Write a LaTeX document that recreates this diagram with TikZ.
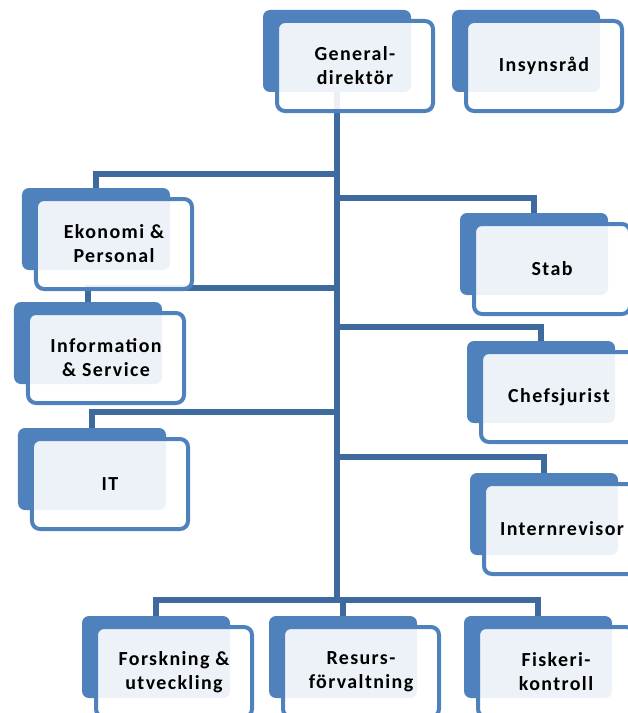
\documentclass[tikz,border=0pt]{standalone}
\usepackage{fontspec}
\setmainfont{Carlito}[LetterSpace=7]
\usetikzlibrary{
	positioning,
	backgrounds,
	calc
}
\definecolor{BoxBlue}{HTML}{4F81BD}
\definecolor{LineBlue}{HTML}{3E6A9E}
\newcommand{\orgbox}[4]{%
	\node[backbox] (#1) at (#2,#3) {};
	\node[frontbox] (#1-f) at ([shift={(18,15)}]#1.center) {#4};
}

\begin{document}
\begin{tikzpicture}[x=1bp, y=-1bp,
		font=\fontsize{20}{24}\selectfont\bfseries,
		backbox/.style={fill=BoxBlue, rounded corners=7bp,
			minimum width=148bp, minimum height=82bp, inner sep=0pt},
		frontbox/.style={draw=BoxBlue, line width=4bp, rounded corners=8bp,
			fill=white, fill opacity=0.9, text opacity=1, align=center,
			minimum width=156bp, minimum height=90bp, inner sep=0pt},
		conn/.style={draw=LineBlue, line width=6bp}]
		
		\useasboundingbox (0,0) rectangle (628,713);
		
		% -- Top row -------------------------------------------------
		\orgbox{gd}{337}{51}{General-\\direktör}
		\orgbox{ins}{526}{51}{Insynsråd}
		
		% -- Left side -----------------------------------------------
		\orgbox{eko}{96}{229}{Ekonomi \&\\Personal}
		\orgbox{info}{88}{343}{Information\\\& Service}
		\orgbox{it}{92}{469}{IT}
		
		% -- Right side ----------------------------------------------
		\orgbox{stab}{534}{254}{Stab}
		\orgbox{chef}{541}{382}{Chefsjurist}
		\orgbox{rev}{544}{514}{Internrevisor}
		
		% -- Bottom row ----------------------------------------------
		\orgbox{fou}{156}{657}{Forskning \&\\utveckling}
		\orgbox{res}{343}{657}{Resurs-\\förvaltning}
		\orgbox{fisk}{538}{657}{Fiskeri-\\kontroll}
		
		% -- Connectors (behind the boxes) ---------------------------
		\begin{scope}[on background layer]
			\fill[white] (0,0) rectangle (628,713);
			\coordinate (jEko)  at (337,174);
			\coordinate (jStab) at (337,198);
			\coordinate (jInfo) at (337,288);
			\coordinate (jChef) at (337,327);
			\coordinate (jIT)   at (337,412);
			\coordinate (jRev)  at (337,457);
			\coordinate (jBot)  at (337,600);
			
			\draw[conn] (gd.south) -- (jBot);
			\draw[conn] (jEko)  -| (eko.north);
			\draw[conn] (jStab) -| (stab.north);
			\draw[conn] (jInfo) -| (info.north);
			\draw[conn] (jChef) -| (chef.north);
			\draw[conn] (jIT)   -| (it.north);
			\draw[conn] (jRev)  -| (rev.north);
			\draw[conn] (jBot)  -| (fou.north);
			\draw[conn] (jBot)  -| (res.north);
			\draw[conn] (jBot)  -| (fisk.north);
		\end{scope}
		
	\end{tikzpicture}
\end{document}
